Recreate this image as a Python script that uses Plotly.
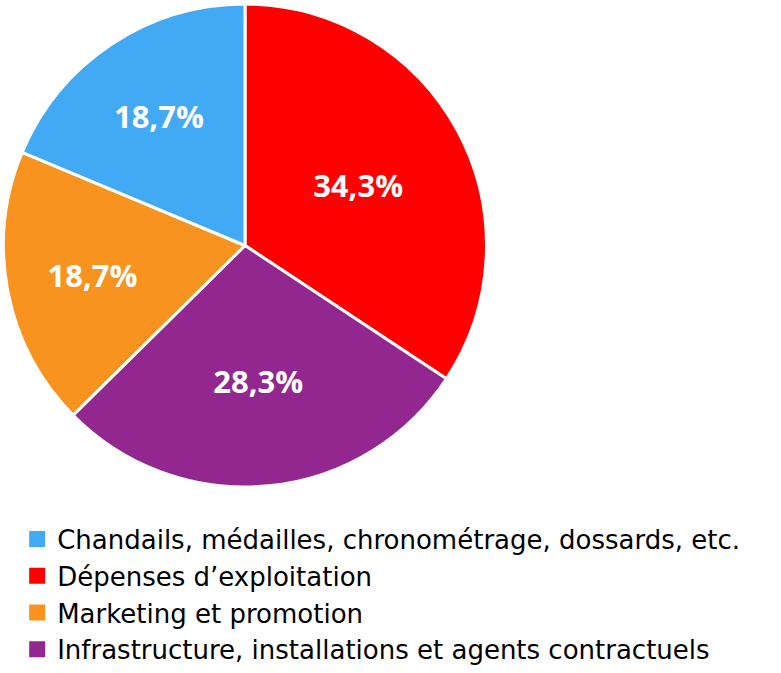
import plotly.graph_objects as go

# slice data, clockwise from 12 o'clock
labels = [
    "Dépenses d’exploitation",
    "Infrastructure, installations et agents contractuels",
    "Marketing et promotion",
    "Chandails, médailles, chronométrage, dossards, etc.",
]
values = [34.3, 28.3, 18.7, 18.7]
texts = ["34,3%", "28,3%", "18,7%", "18,7%"]
colors = ["#ff0000", "#92278f", "#f7931e", "#42a9f5"]

# legend order in the reference (index into the lists above)
legend_order = [3, 0, 2, 1]

W, H = 781, 673

fig = go.Figure()
fig.add_trace(go.Pie(
    labels=labels,
    values=values,
    text=texts,
    textinfo="text",
    textposition="inside",
    insidetextorientation="horizontal",
    sort=False,
    direction="clockwise",
    rotation=0,
    marker=dict(colors=colors, line=dict(color="white", width=3)),
    textfont=dict(family="Open Sans", size=31, color="white", weight="bold"),
    domain=dict(x=[3 / W, 487 / W], y=[1 - 487 / H, 1 - 4 / H]),
    hoverinfo="label+percent",
    showlegend=False,
))

# legend entries as dummy square markers (pie legend can't be reordered)
for i in legend_order:
    fig.add_trace(go.Scatter(
        x=[None], y=[None],
        mode="markers",
        name=labels[i],
        marker=dict(symbol="square", size=16, color=colors[i]),
        showlegend=True,
        hoverinfo="skip",
    ))

fig.update_layout(
    width=W,
    height=H,
    margin=dict(l=0, r=0, t=0, b=0, autoexpand=False),
    paper_bgcolor="white",
    plot_bgcolor="white",
    xaxis=dict(visible=False),
    yaxis=dict(visible=False),
    showlegend=True,
    legend=dict(
        x=0.022,
        y=0.234,
        xanchor="left",
        yanchor="top",
        font=dict(family="DejaVu Sans", size=26, color="black"),
        traceorder="normal",
        itemwidth=30,
        itemsizing="trace",
        tracegroupgap=0,
    ),
)

fig.write_html("out.html", post_script="document.body.style.margin='0';",
               config={"displayModeBar": False})
